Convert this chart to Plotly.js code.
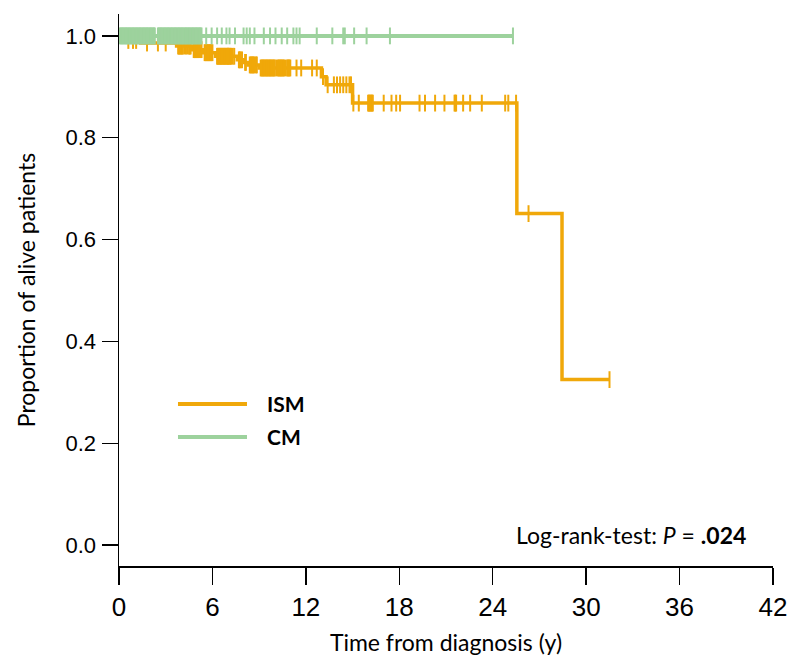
<!DOCTYPE html>
<html>
<head>
<meta charset="utf-8">
<script src="https://cdn.plot.ly/plotly-3.0.1.min.js"></script>
<style>html,body{margin:0;padding:0;background:#fff;}#chart{width:800px;height:672px;}</style>
</head>
<body>
<div id="chart"></div>
<script>
// ---- Data ----
var seriesNames = ["ISM", "CM"];

// ISM Kaplan-Meier step curve
var ismTime = [0, 0.4, 1.4, 3.7, 4.7, 5.4, 6.2, 7.6, 8.0, 8.3, 9.0, 13.0, 13.3, 15.0, 25.55, 28.45, 31.5];
var ismSurv = [1.0, 0.991, 0.986, 0.980, 0.973, 0.967, 0.960, 0.953, 0.948, 0.943, 0.937, 0.920, 0.904, 0.868, 0.651, 0.325, 0.325];
// ISM censoring times
var ismCensor = [0.6, 0.9, 1.1, 1.8, 2.5, 3.0, 3.8, 3.85, 3.9, 3.95, 4.0, 4.05, 4.1, 4.2, 4.3, 4.4, 4.5, 4.55, 4.6,
  4.8, 4.85, 4.9, 4.95, 5.0, 5.05, 5.1, 5.2, 5.3, 5.5, 5.55, 5.6, 5.65, 5.7, 5.75, 5.8, 5.85, 5.9, 5.95, 6.0,
  6.3, 6.35, 6.4, 6.45, 6.5, 6.55, 6.6, 6.65, 6.7, 6.75, 6.8, 6.85, 6.9, 6.95, 7.0, 7.05, 7.1, 7.15, 7.2, 7.3, 7.4,
  7.7, 7.75, 7.8, 7.9, 8.1, 8.15, 8.4, 8.45, 8.5, 8.55, 8.6, 8.65, 8.7, 8.8, 8.85,
  9.1, 9.15, 9.2, 9.25, 9.3, 9.35, 9.4, 9.45, 9.5, 9.55, 9.6, 9.65, 9.7, 9.75, 9.8, 9.85, 9.9, 9.95, 10.0,
  10.1, 10.2, 10.25, 10.3, 10.35, 10.4, 10.45, 10.5, 10.55, 10.6, 10.7, 10.8, 10.85, 10.9, 10.95, 11.0,
  11.4, 11.7, 12.4, 12.7, 13.1,
  13.4, 13.8, 14.0, 14.2, 14.4, 14.6, 14.8, 14.9,
  15.05, 15.4, 16.0, 16.05, 16.1, 16.15, 16.2, 16.25, 16.3, 17.0, 17.5, 17.8, 18.05, 19.3, 19.65, 20.3, 20.9,
  21.55, 21.6, 21.65, 22.1, 22.55, 23.3, 24.8, 25.0, 25.5, 26.3, 31.5];

// CM curve (no events)
var cmTime = [0, 25.3];
var cmSurv = [1.0, 1.0];
var cmCensor = [0.05, 0.1, 0.15, 0.2, 0.25, 0.3, 0.35, 0.4, 0.45, 0.5, 0.55, 0.6, 0.65, 0.7, 0.75, 0.8, 0.85, 0.9,
  0.95, 1.0, 1.05, 1.1, 1.15, 1.2, 1.25, 1.3, 1.35, 1.4, 1.45, 1.5, 1.55, 1.6, 1.65, 1.7, 1.75, 1.8, 1.85, 1.9,
  1.95, 2.0, 2.05, 2.1, 2.15, 2.2, 2.25, 2.3, 2.5, 2.55, 2.6, 2.65, 2.7, 2.75, 2.8, 2.85, 2.9, 2.95, 3.0, 3.05,
  3.1, 3.15, 3.2, 3.25, 3.3, 3.35, 3.4, 3.45, 3.5, 3.55, 3.6, 3.65, 3.7, 3.75, 3.8, 3.85, 3.9, 3.95, 4.0, 4.05,
  4.1, 4.15, 4.2, 4.25, 4.3, 4.35, 4.4, 4.45, 4.5, 4.55, 4.6, 4.65, 4.7, 4.75, 4.8, 4.85, 4.9, 4.95, 5.0, 5.05,
  5.1, 5.15, 5.2, 5.25, 5.3,
  5.6, 5.95, 6.3, 6.6, 6.9, 7.1, 7.45, 8.0, 8.2, 8.4, 8.7, 9.3, 9.7, 10.05, 10.45, 10.8, 11.2, 11.4, 11.6,
  12.7, 13.7, 14.4, 14.5, 15.1, 15.9, 17.4, 25.3];

var xTicks = [0, 6, 12, 18, 24, 30, 36, 42];
var yTicks = [0.0, 0.2, 0.4, 0.6, 0.8, 1.0];
var yTickText = ["0.0", "0.2", "0.4", "0.6", "0.8", "1.0"];
var xTitle = "Time from diagnosis (y)";
var yTitle = "Proportion of alive patients";
var pText = "Log-rank-test: <i>P</i> = <b>.024</b>";

// ---- Helpers ----
function stepValue(times, surv, t) {
  var v = surv[0];
  for (var i = 0; i < times.length; i++) { if (times[i] <= t) v = surv[i]; }
  return v;
}
var colISM = "#F0A80A";
var colCM = "#9DD29D";

var traces = [
  { x: ismTime, y: ismSurv, type: "scatter", mode: "lines", line: { shape: "hv", color: colISM, width: 3.5 }, name: seriesNames[0], showlegend: false, hoverinfo: "skip" },
  { x: ismCensor, y: ismCensor.map(function (t) { return stepValue(ismTime, ismSurv, t); }), type: "scatter", mode: "markers",
    marker: { symbol: "line-ns-open", size: 12, color: colISM, line: { color: colISM, width: 2 } }, showlegend: false, hoverinfo: "skip" },
  { x: cmTime, y: cmSurv, type: "scatter", mode: "lines", line: { shape: "hv", color: colCM, width: 4 }, name: seriesNames[1], showlegend: false, hoverinfo: "skip" },
  { x: cmCensor, y: cmCensor.map(function (t) { return stepValue(cmTime, cmSurv, t); }), type: "scatter", mode: "markers",
    marker: { symbol: "line-ns-open", size: 12, color: colCM, line: { color: colCM, width: 2 } }, showlegend: false, hoverinfo: "skip" }
];

var layout = {
  width: 800, height: 672,
  margin: { l: 119, r: 27, t: 14, b: 106 },
  paper_bgcolor: "#fff", plot_bgcolor: "#fff",
  showlegend: false,
  xaxis: {
    range: [0, 42], tickvals: xTicks, ticktext: xTicks.map(String),
    showline: true, linecolor: "#000", linewidth: 1.5, ticks: "outside", ticklen: 17, tickwidth: 1.5, tickcolor: "#000",
    showgrid: false, zeroline: false,
    tickfont: { family: "Liberation Sans Narrow, Liberation Sans, sans-serif", size: 26, color: "#000" },
    title: { text: xTitle, font: { family: "Lato, sans-serif", size: 23, color: "#000" }, standoff: 14 }
  },
  yaxis: {
    range: [-0.041, 1.043], tickvals: yTicks, ticktext: yTickText,
    showline: true, linecolor: "#000", linewidth: 1.5, ticks: "outside", ticklen: 16, tickwidth: 1.5, tickcolor: "#000",
    showgrid: false, zeroline: false, ticklabelstandoff: 1,
    tickfont: { family: "Liberation Sans, Arial, sans-serif", size: 22, color: "#000" },
    title: { text: yTitle, font: { family: "Lato, sans-serif", size: 23, color: "#000" }, standoff: 23 }
  },
  shapes: [
    { type: "line", xref: "paper", yref: "paper", x0: 0.0902, x1: 0.1957, y0: 0.2935, y1: 0.2935, line: { color: colISM, width: 4 } },
    { type: "line", xref: "paper", yref: "paper", x0: 0.0902, x1: 0.1957, y0: 0.2337, y1: 0.2337, line: { color: colCM, width: 4 } }
  ],
  annotations: [
    { xref: "paper", yref: "paper", x: 0.2232, y: 0.2935, xanchor: "left", yanchor: "middle", showarrow: false, text: "<b>" + seriesNames[0] + "</b>", font: { family: "Lato, sans-serif", size: 21, color: "#000" } },
    { xref: "paper", yref: "paper", x: 0.2232, y: 0.2337, xanchor: "left", yanchor: "middle", showarrow: false, text: "<b>" + seriesNames[1] + "</b>", font: { family: "Lato, sans-serif", size: 21, color: "#000" } },
    { xref: "paper", yref: "paper", x: 0.9618, y: 0.0562, xanchor: "right", yanchor: "middle", showarrow: false, text: pText, font: { family: "Lato, sans-serif", size: 23, color: "#000" } }
  ]
};

Plotly.newPlot("chart", traces, layout, { displayModeBar: false, staticPlot: true });
</script>
</body>
</html>
